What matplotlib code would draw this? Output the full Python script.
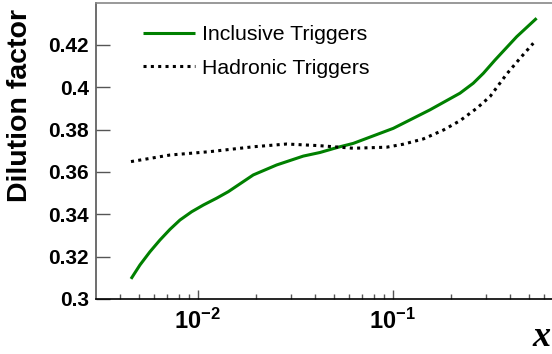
import numpy as np
import matplotlib
matplotlib.use("Agg")
import matplotlib.pyplot as plt
from matplotlib.ticker import LogLocator, FixedLocator, NullFormatter

# values
incl_x = [0.00455, 0.00506, 0.00569, 0.00641, 0.00721, 0.00811, 0.00931, 0.0107,
          0.0125, 0.01436, 0.01928, 0.0254, 0.0348, 0.0424, 0.0526, 0.0628, 0.1007,
          0.155, 0.2213, 0.2588, 0.2917, 0.335, 0.4325, 0.547]
incl_y = [0.3095, 0.3161, 0.3223, 0.3279, 0.3329, 0.3373, 0.3412, 0.3444,
          0.3476, 0.3507, 0.3586, 0.3633, 0.3675, 0.3692, 0.3717, 0.3735, 0.3806,
          0.3893, 0.3972, 0.4019, 0.4066, 0.4129, 0.4239, 0.4326]

hadr_x = [0.00455, 0.00721, 0.01156, 0.0193, 0.0286, 0.0424, 0.0628, 0.0931, 0.1132,
          0.1435, 0.182, 0.2213, 0.270, 0.3155, 0.3846, 0.450, 0.526]
hadr_y = [0.3649, 0.368, 0.3696, 0.3719, 0.3732, 0.3724, 0.3712, 0.3717, 0.3731,
          0.3756, 0.3798, 0.3842, 0.3901, 0.3956, 0.4063, 0.4137, 0.4208]

y_ticks = [0.3, 0.32, 0.34, 0.36, 0.38, 0.4, 0.42]
y_labels = ["0.3", "0.32", "0.34", "0.36", "0.38", "0.4", "0.42"]
x_ticks = [0.01, 0.1]
x_labels = [r"$\mathbf{10^{-2}}$", r"$\mathbf{10^{-1}}$"]

plt.rcParams["font.family"] = ["Liberation Sans", "DejaVu Sans"]
plt.rcParams["mathtext.fontset"] = "custom"
plt.rcParams["mathtext.bf"] = "Liberation Sans:bold"
plt.rcParams["mathtext.rm"] = "Liberation Sans"

W, H = 552, 354
fig = plt.figure(figsize=(W / 100, H / 100), dpi=100)
ax = fig.add_axes([96 / W, (H - 299) / H, (W - 96) / W, 296 / H])

ax.plot(incl_x, incl_y, color="#008000", lw=2.2, label="Inclusive Triggers",
        solid_capstyle="butt", solid_joinstyle="round")
ax.plot(hadr_x, hadr_y, color="black", lw=2.2, linestyle=(0, (1, 1.4)),
        dash_capstyle="butt", label="Hadronic Triggers")

ax.set_xscale("log")
ax.set_xlim(0.00301, 0.656)
ax.set_ylim(0.3, 0.4398)

ax.xaxis.set_major_locator(FixedLocator(x_ticks))
ax.set_xticklabels(x_labels)
ax.xaxis.set_minor_locator(LogLocator(base=10, subs=np.arange(2, 10)))
ax.xaxis.set_minor_formatter(NullFormatter())
ax.set_yticks(y_ticks)
ax.set_yticklabels(y_labels, fontweight="bold")
ax.yaxis.set_minor_locator(FixedLocator([]))

ax.tick_params(axis="x", which="major", direction="in", length=6.5, width=1,
               labelsize=17, pad=7, color="#555555")
ax.tick_params(axis="x", which="minor", direction="in", length=3.5, width=1,
               color="#555555")
ax.tick_params(axis="y", which="major", direction="in", length=10, width=1,
               labelsize=15, pad=5, color="#555555")

ax.spines["right"].set_visible(False)
ax.spines["top"].set_color("#888888")
ax.spines["left"].set_color("#555555")
ax.spines["bottom"].set_color("black")
for s in ax.spines.values():
    s.set_linewidth(1.2)

ax.set_ylabel("Dilution factor", fontsize=20.5, fontweight="bold")
ax.yaxis.set_label_coords(-63 / (W - 96), (299 - 105) / 296)

fig.text(542 / W, (H - 346) / H, "x", fontsize=26, fontweight="bold",
         fontstyle="italic", family="Liberation Serif", ha="center", va="baseline")

ax.legend(loc="upper left", bbox_to_anchor=(47 / (W - 96), 1 - 22 / 296),
          frameon=False, fontsize=15.3, handlelength=2.45, handletextpad=0.34,
          labelspacing=0.69, borderpad=0, borderaxespad=0)

fig.savefig("out.png", dpi=100)
